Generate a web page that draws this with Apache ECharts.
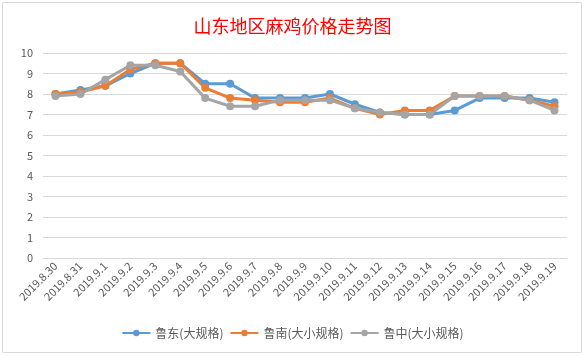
<!DOCTYPE html>
<html><head><meta charset="utf-8">
<script src="https://cdn.jsdelivr.net/npm/echarts@6/dist/echarts.min.js"></script>
<style>html,body{margin:0;padding:0;background:#fff}#c{width:585px;height:356px}</style>
</head><body><div id="c"></div>
<script>
const categories = ['2019.8.30','2019.8.31','2019.9.1','2019.9.2','2019.9.3','2019.9.4','2019.9.5','2019.9.6','2019.9.7','2019.9.8','2019.9.9','2019.9.10','2019.9.11','2019.9.12','2019.9.13','2019.9.14','2019.9.15','2019.9.16','2019.9.17','2019.9.18','2019.9.19'];
const ludong = [8.0,8.2,8.4,9.0,9.5,9.5,8.5,8.5,7.8,7.8,7.8,8.0,7.5,7.1,7.0,7.0,7.2,7.8,7.8,7.8,7.6];
const lunan = [8.0,8.1,8.4,9.2,9.5,9.5,8.3,7.8,7.7,7.6,7.6,7.8,7.3,7.0,7.2,7.2,7.9,7.9,7.9,7.7,7.4];
const luzhong = [7.9,8.0,8.7,9.4,9.4,9.1,7.8,7.4,7.4,7.7,7.7,7.7,7.3,7.1,7.0,7.0,7.9,7.9,7.9,7.7,7.2];
const seriesNames = ['鲁东(大规格)','鲁南(大小规格)','鲁中(大小规格)'];
const colors = ['#5B9BD5','#ED7D31','#A5A5A5'];
const font = '"Noto Sans CJK SC", "Noto Sans", sans-serif';
const chart = echarts.init(document.getElementById('c'));
function mk(name, data, color){
  return {name, type:'line', data, symbol:'circle', symbolSize:8,
    lineStyle:{width:3,color}, itemStyle:{color}, emphasis:{disabled:true}};
}
chart.setOption({
  animation:false,
  color: colors,
  title:{text:'山东地区麻鸡价格走势图', left:'center', top:12,
    textStyle:{color:'#FF0000', fontSize:18, fontWeight:'normal', fontFamily:font}},
  graphic:[{type:'rect', shape:{x:2.5,y:2.5,width:579,height:350}, style:{fill:'none',stroke:'#D9D9D9',lineWidth:1}}],
  legend:{bottom:12, left:'center', itemWidth:28, itemHeight:8, itemGap:6,
    textStyle:{color:'#595959', fontSize:12, fontFamily:font},
    data: seriesNames},
  grid:{left:43, right:18, top:53, bottom:98},
  xAxis:{type:'category', data:categories, boundaryGap:true,
    axisLine:{show:true, lineStyle:{color:'#D9D9D9'}}, axisTick:{show:false},
    axisLabel:{rotate:45, interval:0, color:'#595959', fontSize:11, fontFamily:font, margin:6}},
  yAxis:{type:'value', min:0, max:10, interval:1,
    axisLine:{show:false}, axisTick:{show:false},
    splitLine:{lineStyle:{color:'#D9D9D9'}},
    axisLabel:{color:'#595959', fontSize:11, fontFamily:font, margin:10}},
  series:[mk(seriesNames[0],ludong,colors[0]), mk(seriesNames[1],lunan,colors[1]), mk(seriesNames[2],luzhong,colors[2])]
});
</script></body></html>
